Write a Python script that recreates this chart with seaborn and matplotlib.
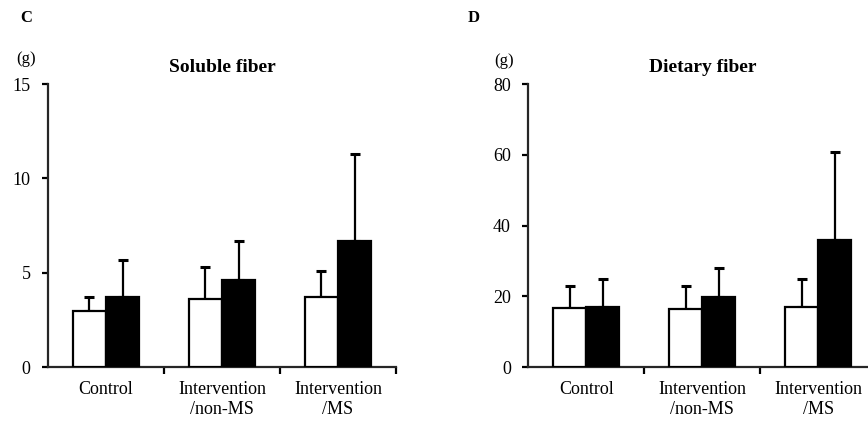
import seaborn as sns
import matplotlib.pyplot as plt
import pandas as pd
from matplotlib.ticker import FixedLocator

groups = ['Control', 'Intervention\n/non-MS', 'Intervention\n/MS']
periods = ['before', 'after']

soluble_before = [3.0, 3.6, 3.7]
soluble_after = [3.7, 4.6, 6.7]
soluble_sd_before = [0.7, 1.7, 1.4]
soluble_sd_after = [2.0, 2.1, 4.6]

dietary_before = [16.7, 16.4, 16.9]
dietary_after = [17.1, 19.9, 36.0]
dietary_sd_before = [6.3, 6.6, 8.0]
dietary_sd_after = [7.8, 8.1, 24.9]

sns.set_theme(style='ticks')
plt.rcParams['font.family'] = ['Liberation Serif', 'DejaVu Serif']
plt.rcParams['text.color'] = 'black'
plt.rcParams['axes.labelcolor'] = 'black'
plt.rcParams['xtick.color'] = 'black'
plt.rcParams['ytick.color'] = 'black'


def make_df(before, after):
    return pd.DataFrame({
        'group': groups * 2,
        'period': [periods[0]] * 3 + [periods[1]] * 3,
        'value': before + after,
    })


def draw_panel(ax, before, after, sd_before, sd_after, title, ymax, yticks):
    df = make_df(before, after)
    sns.barplot(data=df, x='group', y='value', hue='period', order=groups,
                hue_order=periods, palette=['white', 'black'], edgecolor='black',
                linewidth=1.6, width=0.57, errorbar=None, legend=False, ax=ax,
                zorder=3)
    for cont, sds in zip(ax.containers, [sd_before, sd_after]):
        for bar, sd in zip(cont, sds):
            xc = bar.get_x() + bar.get_width() / 2
            h = bar.get_height()
            ax.errorbar(xc, h, yerr=[[0], [sd]], fmt='none', ecolor='black',
                        elinewidth=1.6, capsize=3.6, capthick=2.2, zorder=2)
    ax.set_xlim(-0.5, 2.5)
    ax.set_ylim(0, ymax)
    ax.set_yticks(yticks)
    ax.set_xlabel('')
    ax.set_ylabel('')
    ax.set_title(title, fontsize=14, fontweight='bold', pad=9)
    sns.despine(ax=ax)
    for s in ['left', 'bottom']:
        ax.spines[s].set_linewidth(1.6)
    ax.tick_params(axis='y', labelsize=13, length=4.5, width=1.6, pad=8,
                   direction='out')
    ax.tick_params(axis='x', which='major', labelsize=13, length=0, pad=10)
    ax.xaxis.set_minor_locator(FixedLocator([0.5, 1.5, 2.5]))
    ax.tick_params(axis='x', which='minor', length=5, width=1.6,
                   direction='out')


fig = plt.figure(figsize=(8.68, 4.26), dpi=100)
ax1 = fig.add_axes([0.0553, 0.1378, 0.4009, 0.665])
ax2 = fig.add_axes([0.6087, 0.1378, 0.4009, 0.665])

draw_panel(ax1, soluble_before, soluble_after, soluble_sd_before,
           soluble_sd_after, 'Soluble fiber', 15, [0, 5, 10, 15])
draw_panel(ax2, dietary_before, dietary_after, dietary_sd_before,
           dietary_sd_after, 'Dietary fiber', 80, [0, 20, 40, 60, 80])

fig.text(26 / 868, 1 - 18 / 426, 'C', fontsize=12, fontweight='bold',
         ha='center', va='center')
fig.text(474 / 868, 1 - 18 / 426, 'D', fontsize=12, fontweight='bold',
         ha='center', va='center')
fig.text(26 / 868, 1 - 59 / 426, '(g)', fontsize=12, ha='center', va='center')
fig.text(504 / 868, 1 - 61 / 426, '(g)', fontsize=12, ha='center', va='center')

fig.savefig('out.png', dpi=100)
